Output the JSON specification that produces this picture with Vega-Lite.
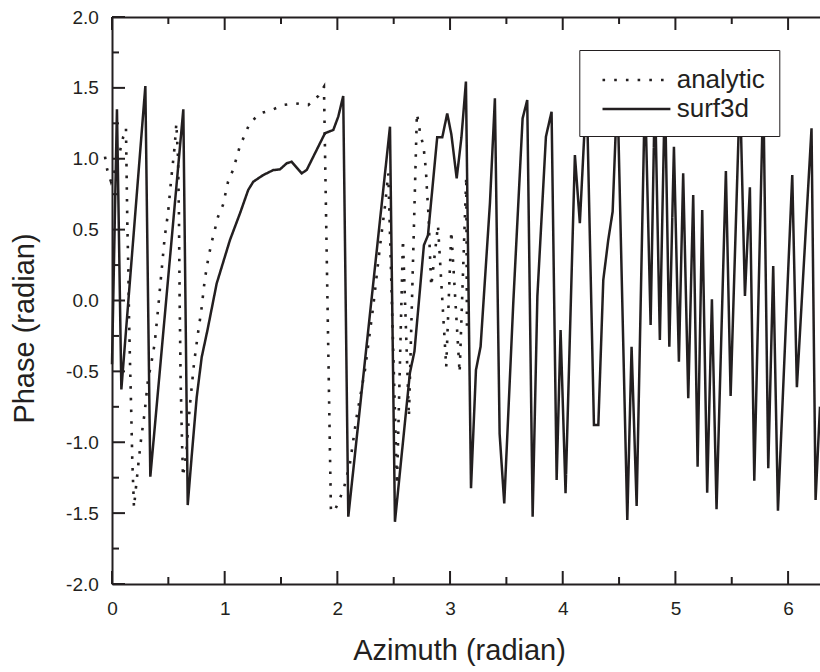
{
  "$schema": "https://vega.github.io/schema/vega-lite/v6.json",
  "width": 708,
  "height": 567,
  "autosize": "none",
  "padding": {"left": 112, "top": 17, "right": 0, "bottom": 88},
  "background": "white",
  "config": {
    "view": {"stroke": null},
    "font": "Liberation Sans",
    "axis": {
      "domainColor": "#231f20",
      "domainWidth": 2,
      "labelColor": "#231f20",
      "titleColor": "#231f20",
      "labelFont": "Liberation Sans",
      "titleFont": "Liberation Sans",
      "titleFontWeight": "normal",
      "grid": false,
      "ticks": false,
      "labelFlush": false,
      "labelOverlap": false
    }
  },
  "datasets": {
    "xmajor": [{"value": 0}, {"value": 1}, {"value": 2}, {"value": 3}, {"value": 4}, {"value": 5}, {"value": 6}],
    "xminor": [{"value": 0.5}, {"value": 1.5}, {"value": 2.5}, {"value": 3.5}, {"value": 4.5}, {"value": 5.5}],
    "ymajor": [{"value": -2}, {"value": -1.5}, {"value": -1}, {"value": -0.5}, {"value": 0}, {"value": 0.5}, {"value": 1}, {"value": 1.5}, {"value": 2}],
    "yminor": [{"value": -1.75}, {"value": -1.25}, {"value": -0.75}, {"value": -0.25}, {"value": 0.25}, {"value": 0.75}, {"value": 1.25}, {"value": 1.75}],
    "analytic": [
      {"x": -0.062, "y": 1.015, "series": "analytic"},
      {"x": -0.042, "y": 0.921, "series": "analytic"},
      {"x": -0.009, "y": 0.838, "series": "analytic"},
      {"x": 0.04, "y": 0.95, "series": "analytic"},
      {"x": 0.077, "y": 1.074, "series": "analytic"},
      {"x": 0.1, "y": 1.156, "series": "analytic"},
      {"x": 0.124, "y": 1.215, "series": "analytic"},
      {"x": 0.13, "y": 0.873, "series": "analytic"},
      {"x": 0.136, "y": 0.545, "series": "analytic"},
      {"x": 0.145, "y": 0.215, "series": "analytic"},
      {"x": 0.151, "y": -0.114, "series": "analytic"},
      {"x": 0.16, "y": -0.443, "series": "analytic"},
      {"x": 0.171, "y": -0.796, "series": "analytic"},
      {"x": 0.18, "y": -1.125, "series": "analytic"},
      {"x": 0.195, "y": -1.46, "series": "analytic"},
      {"x": 0.215, "y": -1.3, "series": "analytic"},
      {"x": 0.236, "y": -1.137, "series": "analytic"},
      {"x": 0.259, "y": -0.972, "series": "analytic"},
      {"x": 0.289, "y": -0.796, "series": "analytic"},
      {"x": 0.319, "y": -0.561, "series": "analytic"},
      {"x": 0.349, "y": -0.443, "series": "analytic"},
      {"x": 0.379, "y": -0.302, "series": "analytic"},
      {"x": 0.408, "y": -0.067, "series": "analytic"},
      {"x": 0.438, "y": 0.192, "series": "analytic"},
      {"x": 0.468, "y": 0.45, "series": "analytic"},
      {"x": 0.497, "y": 0.615, "series": "analytic"},
      {"x": 0.526, "y": 0.862, "series": "analytic"},
      {"x": 0.556, "y": 1.085, "series": "analytic"},
      {"x": 0.571, "y": 1.25, "series": "analytic"},
      {"x": 0.586, "y": 1.003, "series": "analytic"},
      {"x": 0.594, "y": 0.615, "series": "analytic"},
      {"x": 0.6, "y": 0.027, "series": "analytic"},
      {"x": 0.609, "y": -0.561, "series": "analytic"},
      {"x": 0.621, "y": -0.984, "series": "analytic"},
      {"x": 0.63, "y": -1.243, "series": "analytic"},
      {"x": 0.659, "y": -1.078, "series": "analytic"},
      {"x": 0.69, "y": -0.75, "series": "analytic"},
      {"x": 0.728, "y": -0.443, "series": "analytic"},
      {"x": 0.763, "y": -0.231, "series": "analytic"},
      {"x": 0.793, "y": -0.067, "series": "analytic"},
      {"x": 0.823, "y": 0.145, "series": "analytic"},
      {"x": 0.852, "y": 0.286, "series": "analytic"},
      {"x": 0.882, "y": 0.404, "series": "analytic"},
      {"x": 0.912, "y": 0.497, "series": "analytic"},
      {"x": 0.941, "y": 0.591, "series": "analytic"},
      {"x": 0.985, "y": 0.674, "series": "analytic"},
      {"x": 1.03, "y": 0.838, "series": "analytic"},
      {"x": 1.074, "y": 0.921, "series": "analytic"},
      {"x": 1.104, "y": 1.003, "series": "analytic"},
      {"x": 1.133, "y": 1.085, "series": "analytic"},
      {"x": 1.178, "y": 1.168, "series": "analytic"},
      {"x": 1.222, "y": 1.25, "series": "analytic"},
      {"x": 1.313, "y": 1.32, "series": "analytic"},
      {"x": 1.417, "y": 1.344, "series": "analytic"},
      {"x": 1.52, "y": 1.379, "series": "analytic"},
      {"x": 1.624, "y": 1.391, "series": "analytic"},
      {"x": 1.742, "y": 1.379, "series": "analytic"},
      {"x": 1.831, "y": 1.443, "series": "analytic"},
      {"x": 1.881, "y": 1.508, "series": "analytic"},
      {"x": 1.943, "y": -1.49, "series": "analytic"},
      {"x": 1.979, "y": -1.478, "series": "analytic"},
      {"x": 2.023, "y": -1.396, "series": "analytic"},
      {"x": 2.061, "y": -1.314, "series": "analytic"},
      {"x": 2.112, "y": -1.149, "series": "analytic"},
      {"x": 2.171, "y": -0.82, "series": "analytic"},
      {"x": 2.245, "y": -0.49, "series": "analytic"},
      {"x": 2.318, "y": -0.044, "series": "analytic"},
      {"x": 2.378, "y": 0.38, "series": "analytic"},
      {"x": 2.422, "y": 0.662, "series": "analytic"},
      {"x": 2.452, "y": 0.897, "series": "analytic"},
      {"x": 2.529, "y": -1.3, "series": "analytic"},
      {"x": 2.582, "y": 0.43, "series": "analytic"},
      {"x": 2.635, "y": -0.82, "series": "analytic"},
      {"x": 2.706, "y": 1.32, "series": "analytic"},
      {"x": 2.735, "y": 1.18, "series": "analytic"},
      {"x": 2.765, "y": 1.085, "series": "analytic"},
      {"x": 2.786, "y": 0.92, "series": "analytic"},
      {"x": 2.795, "y": 0.78, "series": "analytic"},
      {"x": 2.81, "y": 0.59, "series": "analytic"},
      {"x": 2.819, "y": 0.38, "series": "analytic"},
      {"x": 2.833, "y": 0.1, "series": "analytic"},
      {"x": 2.893, "y": 0.53, "series": "analytic"},
      {"x": 2.966, "y": -0.47, "series": "analytic"},
      {"x": 3.011, "y": 0.49, "series": "analytic"},
      {"x": 3.085, "y": -0.51, "series": "analytic"},
      {"x": 3.144, "y": 0.873, "series": "analytic"},
      {"x": 3.15, "y": -0.2, "series": "analytic"}
    ],
    "surf3d": [
      {"x": 0.0, "y": -0.45, "series": "surf3d"},
      {"x": 0.044, "y": 1.349, "series": "surf3d"},
      {"x": 0.083, "y": -0.627, "series": "surf3d"},
      {"x": 0.296, "y": 1.513, "series": "surf3d"},
      {"x": 0.34, "y": -1.243, "series": "surf3d"},
      {"x": 0.633, "y": 1.349, "series": "surf3d"},
      {"x": 0.672, "y": -1.443, "series": "surf3d"},
      {"x": 0.707, "y": -1.1, "series": "surf3d"},
      {"x": 0.752, "y": -0.68, "series": "surf3d"},
      {"x": 0.796, "y": -0.4, "series": "surf3d"},
      {"x": 0.847, "y": -0.21, "series": "surf3d"},
      {"x": 0.929, "y": 0.12, "series": "surf3d"},
      {"x": 1.047, "y": 0.427, "series": "surf3d"},
      {"x": 1.136, "y": 0.615, "series": "surf3d"},
      {"x": 1.209, "y": 0.78, "series": "surf3d"},
      {"x": 1.254, "y": 0.838, "series": "surf3d"},
      {"x": 1.342, "y": 0.885, "series": "surf3d"},
      {"x": 1.431, "y": 0.92, "series": "surf3d"},
      {"x": 1.491, "y": 0.925, "series": "surf3d"},
      {"x": 1.55, "y": 0.968, "series": "surf3d"},
      {"x": 1.594, "y": 0.979, "series": "surf3d"},
      {"x": 1.683, "y": 0.897, "series": "surf3d"},
      {"x": 1.728, "y": 0.921, "series": "surf3d"},
      {"x": 1.89, "y": 1.18, "series": "surf3d"},
      {"x": 1.964, "y": 1.203, "series": "surf3d"},
      {"x": 2.008, "y": 1.297, "series": "surf3d"},
      {"x": 2.052, "y": 1.443, "series": "surf3d"},
      {"x": 2.097, "y": -1.525, "series": "surf3d"},
      {"x": 2.467, "y": 1.226, "series": "surf3d"},
      {"x": 2.511, "y": -1.561, "series": "surf3d"},
      {"x": 2.644, "y": -0.51, "series": "surf3d"},
      {"x": 2.684, "y": -0.36, "series": "surf3d"},
      {"x": 2.768, "y": 0.39, "series": "surf3d"},
      {"x": 2.804, "y": 0.46, "series": "surf3d"},
      {"x": 2.886, "y": 1.151, "series": "surf3d"},
      {"x": 2.931, "y": 1.151, "series": "surf3d"},
      {"x": 2.975, "y": 1.32, "series": "surf3d"},
      {"x": 3.012, "y": 1.17, "series": "surf3d"},
      {"x": 3.059, "y": 0.862, "series": "surf3d"},
      {"x": 3.101, "y": 1.15, "series": "surf3d"},
      {"x": 3.141, "y": 1.544, "series": "surf3d"},
      {"x": 3.186, "y": -1.325, "series": "surf3d"},
      {"x": 3.23, "y": -0.49, "series": "surf3d"},
      {"x": 3.271, "y": -0.326, "series": "surf3d"},
      {"x": 3.354, "y": 0.686, "series": "surf3d"},
      {"x": 3.398, "y": 1.426, "series": "surf3d"},
      {"x": 3.44, "y": -0.94, "series": "surf3d"},
      {"x": 3.481, "y": -1.431, "series": "surf3d"},
      {"x": 3.561, "y": -0.02, "series": "surf3d"},
      {"x": 3.644, "y": 1.285, "series": "surf3d"},
      {"x": 3.685, "y": 1.414, "series": "surf3d"},
      {"x": 3.733, "y": -1.525, "series": "surf3d"},
      {"x": 3.775, "y": 0.03, "series": "surf3d"},
      {"x": 3.851, "y": 1.156, "series": "surf3d"},
      {"x": 3.901, "y": 1.332, "series": "surf3d"},
      {"x": 3.946, "y": -1.266, "series": "surf3d"},
      {"x": 3.981, "y": -0.208, "series": "surf3d"},
      {"x": 4.025, "y": -1.36, "series": "surf3d"},
      {"x": 4.108, "y": 1.026, "series": "surf3d"},
      {"x": 4.152, "y": 0.545, "series": "surf3d"},
      {"x": 4.212, "y": 1.5, "series": "surf3d"},
      {"x": 4.277, "y": -0.878, "series": "surf3d"},
      {"x": 4.316, "y": -0.878, "series": "surf3d"},
      {"x": 4.36, "y": 0.145, "series": "surf3d"},
      {"x": 4.404, "y": 0.427, "series": "surf3d"},
      {"x": 4.443, "y": 0.627, "series": "surf3d"},
      {"x": 4.485, "y": 1.5, "series": "surf3d"},
      {"x": 4.573, "y": -1.549, "series": "surf3d"},
      {"x": 4.611, "y": -0.326, "series": "surf3d"},
      {"x": 4.656, "y": -1.45, "series": "surf3d"},
      {"x": 4.73, "y": 1.5, "series": "surf3d"},
      {"x": 4.78, "y": -0.173, "series": "surf3d"},
      {"x": 4.818, "y": 1.5, "series": "surf3d"},
      {"x": 4.862, "y": -0.279, "series": "surf3d"},
      {"x": 4.907, "y": 1.5, "series": "surf3d"},
      {"x": 4.946, "y": -0.326, "series": "surf3d"},
      {"x": 4.987, "y": 1.085, "series": "surf3d"},
      {"x": 5.031, "y": -0.432, "series": "surf3d"},
      {"x": 5.069, "y": 0.897, "series": "surf3d"},
      {"x": 5.114, "y": -0.69, "series": "surf3d"},
      {"x": 5.158, "y": 0.744, "series": "surf3d"},
      {"x": 5.197, "y": -1.172, "series": "surf3d"},
      {"x": 5.238, "y": 0.638, "series": "surf3d"},
      {"x": 5.282, "y": -1.356, "series": "surf3d"},
      {"x": 5.324, "y": 0.008, "series": "surf3d"},
      {"x": 5.365, "y": -1.473, "series": "surf3d"},
      {"x": 5.448, "y": 0.914, "series": "surf3d"},
      {"x": 5.49, "y": -0.674, "series": "surf3d"},
      {"x": 5.573, "y": 1.5, "series": "surf3d"},
      {"x": 5.617, "y": 0.032, "series": "surf3d"},
      {"x": 5.661, "y": 0.798, "series": "surf3d"},
      {"x": 5.7, "y": -1.271, "series": "surf3d"},
      {"x": 5.78, "y": 1.5, "series": "surf3d"},
      {"x": 5.824, "y": -1.184, "series": "surf3d"},
      {"x": 5.868, "y": 0.243, "series": "surf3d"},
      {"x": 5.91, "y": -1.483, "series": "surf3d"},
      {"x": 6.037, "y": 0.885, "series": "surf3d"},
      {"x": 6.078, "y": -0.612, "series": "surf3d"},
      {"x": 6.208, "y": 1.215, "series": "surf3d"},
      {"x": 6.244, "y": -1.407, "series": "surf3d"},
      {"x": 6.283, "y": -0.749, "series": "surf3d"}
    ]
  },
  "layer": [
    {
      "data": {"name": "analytic"},
      "mark": {"type": "line", "strokeWidth": 2.6, "strokeCap": "butt", "color": "#231f20"},
      "encoding": {
        "x": {
          "field": "x", "type": "quantitative",
          "scale": {"domain": [0, 6.2832], "nice": false, "zero": false},
          "axis": {
            "orient": "bottom",
            "values": [0, 1, 2, 3, 4, 5, 6],
            "format": "d",
            "labelPadding": 15.6,
            "labelFontSize": 19,
            "title": "Azimuth (radian)",
            "titleFontSize": 29,
            "titleX": 347,
            "titleY": 75,
            "titleAlign": "center",
            "titleBaseline": "alphabetic"
          }
        },
        "y": {
          "field": "y", "type": "quantitative",
          "scale": {"domain": [-2, 2], "nice": false, "zero": false},
          "axis": {
            "orient": "left",
            "values": [-2, -1.5, -1, -0.5, 0, 0.5, 1, 1.5, 2],
            "labelExpr": "replace(format(datum.value, '.1f'), '\u2212', '-')",
            "labelPadding": 13.7,
            "labelFontSize": 19,
            "title": "Phase (radian)",
            "titleFontSize": 29,
            "titleAngle": -90,
            "titleX": -79,
            "titleY": 311,
            "titleAlign": "center",
            "titleBaseline": "alphabetic"
          }
        },
        "strokeDash": {
          "field": "series", "type": "nominal",
          "scale": {"domain": ["analytic", "surf3d"], "range": [[2.6, 9.1], [1, 0]]},
          "legend": {
            "orient": "none",
            "legendX": 467.3,
            "legendY": 33,
            "title": null,
            "fillColor": "white",
            "strokeColor": "#231f20",
            "padding": 14,
            "symbolType": "M-0.467,0H4.2",
            "symbolSize": 847,
            "symbolStrokeWidth": 2.5,
            "symbolStrokeColor": "#231f20",
            "labelFont": "Liberation Sans",
            "labelFontSize": 26,
            "labelColor": "#231f20",
            "labelOffset": 51.4,
            "labelExpr": "datum.label + '\u00a0\u00a0\u2009'",
            "rowPadding": 0
          }
        }
      }
    },
    {
      "data": {"name": "surf3d"},
      "mark": {"type": "line", "strokeWidth": 2.5, "color": "#231f20"},
      "encoding": {
        "x": {"field": "x", "type": "quantitative", "scale": {"domain": [0, 6.2832], "nice": false, "zero": false}, "axis": null},
        "y": {"field": "y", "type": "quantitative", "scale": {"domain": [-2, 2], "nice": false, "zero": false}, "axis": null},
        "strokeDash": {
          "field": "series", "type": "nominal",
          "scale": {"domain": ["analytic", "surf3d"], "range": [[2.6, 9.1], [1, 0]]}
        }
      }
    },
    {
      "data": {"name": "surf3d"},
      "mark": {"type": "line", "strokeOpacity": 0},
      "encoding": {
        "x": {
          "field": "x", "type": "quantitative",
          "scale": {"domain": [0, 6.2832], "nice": false, "zero": false},
          "axis": {"orient": "top", "values": [0, 1, 2, 3, 4, 5, 6], "labels": false, "domain": true, "title": null}
        },
        "y": {"field": "y", "type": "quantitative", "scale": {"domain": [-2, 2], "nice": false, "zero": false}, "axis": null}
      }
    },
    {
      "data": {"name": "xmajor"},
      "mark": {"type": "rule", "strokeWidth": 2, "color": "#231f20"},
      "encoding": {
        "x": {"field": "value", "type": "quantitative", "scale": {"domain": [0, 6.2832], "nice": false, "zero": false}, "axis": null},
        "y": {"datum": -2, "type": "quantitative", "scale": {"domain": [-2, 2], "nice": false, "zero": false}, "axis": null},
        "y2": {"datum": -1.9083}
      }
    },
    {
      "data": {"name": "xminor"},
      "mark": {"type": "rule", "strokeWidth": 2, "color": "#231f20"},
      "encoding": {
        "x": {"field": "value", "type": "quantitative", "scale": {"domain": [0, 6.2832], "nice": false, "zero": false}, "axis": null},
        "y": {"datum": -2, "type": "quantitative", "scale": {"domain": [-2, 2], "nice": false, "zero": false}, "axis": null},
        "y2": {"datum": -1.9506}
      }
    },
    {
      "data": {"name": "xmajor"},
      "mark": {"type": "rule", "strokeWidth": 2, "color": "#231f20"},
      "encoding": {
        "x": {"field": "value", "type": "quantitative", "scale": {"domain": [0, 6.2832], "nice": false, "zero": false}, "axis": null},
        "y": {"datum": 2, "type": "quantitative", "scale": {"domain": [-2, 2], "nice": false, "zero": false}, "axis": null},
        "y2": {"datum": 1.9083}
      }
    },
    {
      "data": {"name": "xminor"},
      "mark": {"type": "rule", "strokeWidth": 2, "color": "#231f20"},
      "encoding": {
        "x": {"field": "value", "type": "quantitative", "scale": {"domain": [0, 6.2832], "nice": false, "zero": false}, "axis": null},
        "y": {"datum": 2, "type": "quantitative", "scale": {"domain": [-2, 2], "nice": false, "zero": false}, "axis": null},
        "y2": {"datum": 1.9506}
      }
    },
    {
      "data": {"name": "ymajor"},
      "mark": {"type": "rule", "strokeWidth": 2, "color": "#231f20"},
      "encoding": {
        "y": {"field": "value", "type": "quantitative", "scale": {"domain": [-2, 2], "nice": false, "zero": false}, "axis": null},
        "x": {"datum": 0, "type": "quantitative", "scale": {"domain": [0, 6.2832], "nice": false, "zero": false}, "axis": null},
        "x2": {"datum": 0.1154}
      }
    },
    {
      "data": {"name": "yminor"},
      "mark": {"type": "rule", "strokeWidth": 2, "color": "#231f20"},
      "encoding": {
        "y": {"field": "value", "type": "quantitative", "scale": {"domain": [-2, 2], "nice": false, "zero": false}, "axis": null},
        "x": {"datum": 0, "type": "quantitative", "scale": {"domain": [0, 6.2832], "nice": false, "zero": false}, "axis": null},
        "x2": {"datum": 0.0621}
      }
    }
  ],
  "resolve": {"axis": {"x": "independent", "y": "independent"}}
}
